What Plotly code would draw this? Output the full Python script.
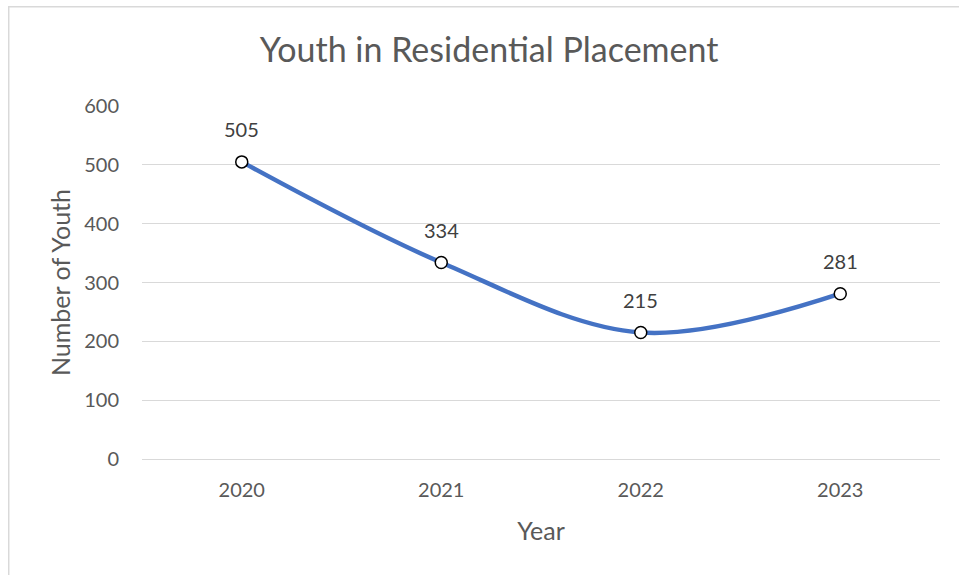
import plotly.graph_objects as go

years = [2020, 2021, 2022, 2023]
youth = [505, 334, 215, 281]
y_ticks = [0, 100, 200, 300, 400, 500, 600]

FONT = "Lato"
GRAY = "#595959"

fig = go.Figure()
fig.add_trace(go.Scatter(
    x=years, y=youth, mode="lines+markers",
    line=dict(color="#4472C4", width=4.5, shape="spline", smoothing=1),
    marker=dict(size=12, color="white", line=dict(color="black", width=1.5)),
    hoverinfo="x+y", showlegend=False,
))

for x, y in zip(years, youth):
    fig.add_annotation(x=x, y=y, text=str(y), showarrow=False, yshift=33,
                       font=dict(family=FONT, size=20, color="#404040"))

fig.add_shape(type="rect", xref="paper", yref="paper",
              x0=-0.167, y0=-0.6, x1=1.3, y1=1.281,
              line=dict(color="#D9D9D9", width=1.5), layer="below")

fig.update_layout(
    width=959, height=575,
    margin=dict(l=142, r=19, t=106, b=116),
    paper_bgcolor="white", plot_bgcolor="white",
    title=dict(text="Youth in Residential Placement", x=0.51, xanchor="center",
               xref="container", y=0.913, yanchor="middle",
               font=dict(family=FONT, size=34, color=GRAY)),
    font=dict(family=FONT, color=GRAY),
    xaxis=dict(range=[2019.5, 2023.5], tickvals=years, showgrid=False,
               ticks="", showline=False, zeroline=False,
               ticklabelstandoff=17,
               tickfont=dict(size=20, color=GRAY),
               title=dict(text="Year", font=dict(size=25, color=GRAY), standoff=22)),
    yaxis=dict(range=[0, 600], tickvals=y_ticks, showgrid=True,
               gridcolor="#D9D9D9", gridwidth=1, zeroline=True,
               zerolinecolor="#D9D9D9", zerolinewidth=1, showline=False, ticks="",
               ticklabelstandoff=22,
               tickfont=dict(size=20, color=GRAY),
               title=dict(text="Number of Youth", font=dict(size=25, color=GRAY), standoff=6)),
)

fig.write_html("out.html", config={"displayModeBar": False},
               post_script="document.body.style.margin='0';")
